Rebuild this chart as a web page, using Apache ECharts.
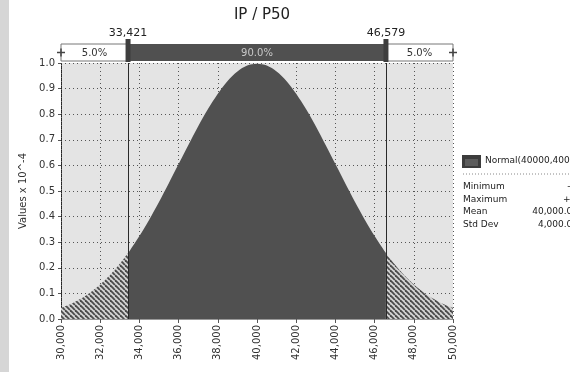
<!DOCTYPE html>
<html>
<head>
<meta charset="utf-8">
<script src="https://cdn.jsdelivr.net/npm/echarts@6/dist/echarts.min.js"></script>
<style>
  html, body { margin: 0; padding: 0; background: #fff; }
  #chart { width: 570px; height: 372px; }
</style>
</head>
<body>
<div id="chart"></div>
<script>
// density (values x 10^-4), every 500 from 30,000 to 50,000
const xs = [
  30000, 30500, 31000, 31500, 32000, 32500, 33000, 33500, 34000, 34500,
  35000, 35500, 36000, 36500, 37000, 37500, 38000, 38500, 39000, 39500,
  40000, 40500, 41000, 41500, 42000, 42500, 43000, 43500, 44000, 44500,
  45000, 45500, 46000, 46500, 47000, 47500, 48000, 48500, 49000, 49500, 50000
];
const density = [
  0.044, 0.059, 0.079, 0.104, 0.135, 0.172, 0.216, 0.266, 0.324, 0.388,
  0.457, 0.530, 0.605, 0.680, 0.753, 0.820, 0.880, 0.930, 0.967, 0.990,
  0.997, 0.990, 0.967, 0.930, 0.880, 0.820, 0.753, 0.680, 0.605, 0.530,
  0.457, 0.388, 0.324, 0.266, 0.216, 0.172, 0.135, 0.104, 0.079, 0.059, 0.044
];
const cutLow = 33421;
const cutHigh = 46579;
const cutDensity = 0.258;
const cutLabels = ["33,421", "46,579"];

const bandStarts = [30000, 33421, 46579];
const bandEnds = [33421, 46579, 50000];
const bandLabels = ["5.0%", "90.0%", "5.0%"];

const statNames = ["Minimum", "Maximum", "Mean", "Std Dev"];
const statValues = ["-\u221e", "+\u221e", "40,000.00", "4,000.00"];
const distLabel = "Normal(40000,4000)";

const FONT = "DejaVu Sans";
const DARK = "#505050";

function hatchPattern() {
  const c = document.createElement("canvas");
  c.width = 5;
  c.height = 5;
  const ctx = c.getContext("2d");
  ctx.fillStyle = "#d4d4d4";
  ctx.fillRect(0, 0, 5, 5);
  ctx.strokeStyle = "#4a4a4a";
  ctx.lineWidth = 1.8;
  for (let k = -1; k <= 1; k++) {
    ctx.beginPath();
    ctx.moveTo(k * 5, 0);
    ctx.lineTo(k * 5 + 5, 5);
    ctx.stroke();
  }
  return { image: c, repeat: "repeat" };
}

// points of the curve between lo and hi, with the cut values added at the ends
function pointsBetween(lo, hi) {
  const pts = [];
  if (lo === cutLow || lo === cutHigh) pts.push([lo, cutDensity]);
  xs.forEach((x, i) => {
    if (x >= lo && x <= hi) pts.push([x, density[i]]);
  });
  if (hi === cutLow || hi === cutHigh) pts.push([hi, cutDensity]);
  return pts;
}

const hatch = hatchPattern();

function areaSeries(data, fill) {
  return {
    type: "line",
    data,
    smooth: 0.3,
    showSymbol: false,
    lineStyle: { width: 0 },
    areaStyle: { color: fill, opacity: 1 },
    silent: true,
    z: 2,
  };
}

function renderBand(params, api) {
  const s = api.value(0);
  const e = api.value(1);
  const i = params.dataIndex;
  const p0 = api.coord([s, 1]);
  const p1 = api.coord([e, 0]);
  const dark = i === 1;
  const children = [
    {
      type: "rect",
      shape: { x: p0[0], y: p0[1], width: p1[0] - p0[0], height: p1[1] - p0[1] },
      style: dark ? { fill: DARK } : { fill: "#fff", stroke: "#777", lineWidth: 1 },
    },
    {
      type: "text",
      style: {
        text: bandLabels[i],
        x: (p0[0] + p1[0]) / 2,
        y: (p0[1] + p1[1]) / 2 + 1,
        align: "center",
        verticalAlign: "middle",
        fill: dark ? "#c9c9c9" : "#333",
        font: `10px "${FONT}"`,
      },
    },
  ];
  if (i === 0 || i === 2) {
    const cx = i === 0 ? p0[0] : p1[0];
    const cy = (p0[1] + p1[1]) / 2;
    children.push(
      { type: "line", shape: { x1: cx - 4, y1: cy, x2: cx + 4, y2: cy }, style: { stroke: "#444", lineWidth: 1.5 } },
      { type: "line", shape: { x1: cx, y1: cy - 4, x2: cx, y2: cy + 4 }, style: { stroke: "#444", lineWidth: 1.5 } },
    );
  }
  return { type: "group", children };
}

function renderCut(params, api) {
  const x = api.value(0);
  const top = api.coord([x, 1]);
  const bot = api.coord([x, 0]);
  return {
    type: "group",
    children: [
      {
        type: "rect",
        shape: { x: top[0] - 2.5, y: top[1] - 5, width: 5, height: bot[1] - top[1] + 6 },
        style: { fill: "#3e3e3e" },
      },
      {
        type: "text",
        style: {
          text: cutLabels[params.dataIndex],
          x: top[0],
          y: top[1] - 5,
          align: "center",
          verticalAlign: "bottom",
          fill: "#222",
          font: `11px "${FONT}"`,
        },
      },
    ],
  };
}

const chart = echarts.init(document.getElementById("chart"), null, { renderer: "canvas" });

const statGraphics = [];
statNames.forEach((name, i) => {
  const y = 187 + i * 12.4;
  statGraphics.push(
    { type: "text", x: 463, y: y, style: { text: name, font: `9px "${FONT}"`, fill: "#222", verticalAlign: "middle" } },
    { type: "text", x: 578, y: y, style: { text: statValues[i], font: `9px "${FONT}"`, fill: "#222", align: "right", verticalAlign: "middle" } },
  );
});

chart.setOption({
  animation: false,
  backgroundColor: "#fff",
  title: {
    text: "IP / P50",
    left: 257,
    top: 3,
    textAlign: "center",
    textStyle: { fontFamily: FONT, fontSize: 15, fontWeight: "normal", color: "#222" },
  },
  grid: [
    { left: 61, right: 117, top: 63, bottom: 53, show: true, backgroundColor: "#e4e4e4", borderWidth: 0 },
    { left: 61, right: 117, top: 44, height: 17 },
  ],
  xAxis: [
    {
      type: "value",
      gridIndex: 0,
      min: 30000,
      max: 50000,
      interval: 2000,
      axisLine: { show: true, lineStyle: { color: "#999" } },
      axisTick: { show: true, length: 4, lineStyle: { color: "#555" } },
      axisLabel: {
        rotate: 90,
        margin: 6,
        color: "#333",
        fontFamily: FONT,
        fontSize: 10,
        formatter: (v) => v.toLocaleString("en-US"),
      },
      splitLine: { show: true, lineStyle: { color: "#555", type: [1, 3], width: 1 } },
    },
    { type: "value", gridIndex: 1, min: 30000, max: 50000, show: false },
  ],
  yAxis: [
    {
      type: "value",
      gridIndex: 0,
      min: 0,
      max: 1,
      interval: 0.1,
      name: "Values x 10^-4",
      nameLocation: "middle",
      nameGap: 27,
      nameRotate: 90,
      nameTextStyle: { fontFamily: FONT, fontSize: 10, color: "#333" },
      axisLine: { show: true, lineStyle: { color: "#222", type: [1, 1] } },
      axisTick: { show: true, length: 3, lineStyle: { color: "#555" } },
      axisLabel: {
        margin: 6,
        color: "#333",
        fontFamily: FONT,
        fontSize: 10,
        formatter: (v) => v.toFixed(1),
      },
      splitLine: { show: true, lineStyle: { color: "#555", type: [1, 3], width: 1 } },
    },
    { type: "value", gridIndex: 1, min: 0, max: 1, show: false },
  ],
  series: [
    areaSeries(pointsBetween(30000, cutLow), hatch),
    Object.assign(areaSeries(pointsBetween(cutLow, cutHigh), DARK), {
      markLine: {
        silent: true,
        symbol: "none",
        label: { show: false },
        lineStyle: { color: "#2a2a2a", type: "solid", width: 1 },
        data: [{ xAxis: cutLow }, { xAxis: cutHigh }],
      },
    }),
    areaSeries(pointsBetween(cutHigh, 50000), hatch),
    {
      type: "custom",
      xAxisIndex: 1,
      yAxisIndex: 1,
      renderItem: renderBand,
      clip: false,
      data: bandStarts.map((s, i) => [s, bandEnds[i]]),
      z: 3,
    },
    {
      type: "custom",
      xAxisIndex: 1,
      yAxisIndex: 1,
      renderItem: renderCut,
      clip: false,
      data: [[cutLow], [cutHigh]],
      z: 4,
    },
  ],
  graphic: [
    { type: "rect", left: 0, top: 0, shape: { width: 9, height: 372 }, style: { fill: "#d6d6d6" } },
    { type: "rect", left: 462, top: 155, shape: { width: 19, height: 13 }, style: { fill: "#3c3c3c" } },
    { type: "rect", left: 465, top: 159, shape: { width: 13, height: 7 }, style: { fill: "#5c5c5c" } },
    { type: "text", x: 485, y: 161, style: { text: distLabel, font: `9px "${FONT}"`, fill: "#222", verticalAlign: "middle" } },
    { type: "line", shape: { x1: 463, y1: 174, x2: 570, y2: 174 }, style: { stroke: "#888", lineDash: [1, 2], lineWidth: 1 } },
    ...statGraphics,
  ],
});
</script>
</body>
</html>
